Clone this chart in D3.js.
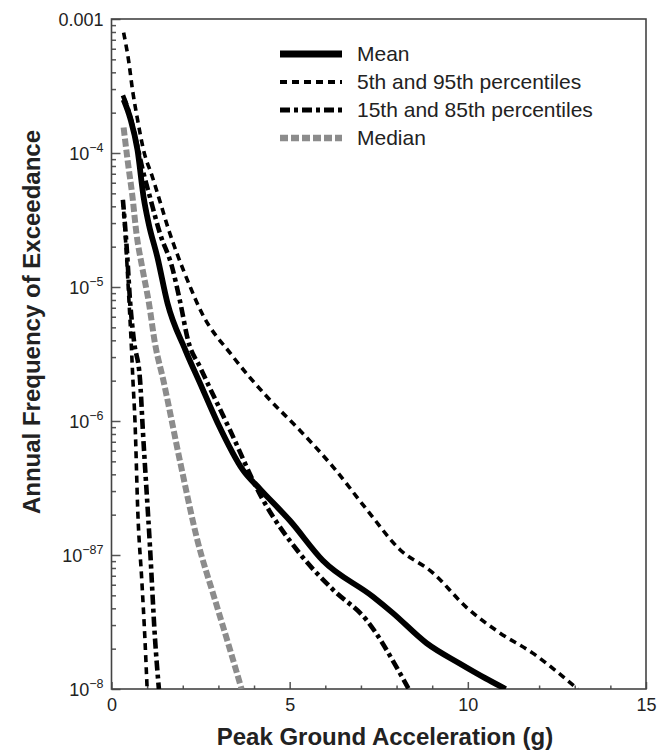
<!DOCTYPE html>
<html>
<head>
<meta charset="utf-8">
<script src="https://cdn.jsdelivr.net/npm/d3@7"></script>
<style>
  html, body { margin: 0; padding: 0; background: #fff; }
  svg { display: block; font-family: "Liberation Sans", Arial, Helvetica, sans-serif; }
</style>
</head>
<body>
<svg id="chart" width="660" height="751"></svg>
<script>
// ---------------- data ----------------
const meanX = [0.34, 0.53, 0.73, 0.90, 1.04, 1.29, 1.57, 2.07, 2.49, 2.97, 3.69, 4.17, 5.01, 5.93, 7.33, 7.89, 8.84, 9.77, 10.5, 11.06];
const meanY = [2.5e-4, 1.8e-4, 1.05e-4, 4.7e-5, 3.0e-5, 1.66e-5, 7.6e-6, 3.4e-6, 1.9e-6, 9.8e-7, 4.3e-7, 3.1e-7, 1.8e-7, 9.1e-8, 4.9e-8, 3.7e-8, 2.2e-8, 1.55e-8, 1.2e-8, 1.0e-8];

const p95X = [0.34, 0.48, 0.59, 0.73, 0.90, 1.15, 1.37, 1.60, 1.88, 2.21, 2.49, 3.41, 4.37, 5.29, 6.21, 7.16, 8.09, 9.01, 9.96, 10.89, 11.81, 13.08];
const p95Y = [7.9e-4, 4.9e-4, 2.95e-4, 1.78e-4, 1.05e-4, 6.6e-5, 4.27e-5, 2.69e-5, 1.66e-5, 1.0e-5, 6.76e-6, 3.02e-6, 1.51e-6, 8.5e-7, 4.57e-7, 2.19e-7, 1.1e-7, 7.4e-8, 4.07e-8, 2.63e-8, 1.86e-8, 1.0e-8];

const p5X = [0.32, 0.41, 0.49, 0.55, 0.60, 0.66, 0.74, 0.85, 0.94, 1.00];
const p5Y = [4.47e-5, 1.91e-5, 7.9e-6, 3.98e-6, 2.04e-6, 9.8e-7, 2.04e-7, 6.5e-8, 2.3e-8, 1.0e-8];

const p85X = [0.32, 0.47, 0.71, 0.88, 1.08, 1.36, 1.70, 1.92, 2.15, 2.49, 3.33, 4.17, 5.29, 6.22, 7.17, 8.09, 8.34];
const p85Y = [2.69e-4, 2.09e-4, 1.17e-4, 7.4e-5, 4.68e-5, 2.51e-5, 1.41e-5, 7.9e-6, 3.98e-6, 2.51e-6, 8.5e-7, 2.82e-7, 1.02e-7, 5.5e-8, 3.24e-8, 1.32e-8, 1.0e-8];

const p15X = [0.32, 0.43, 0.52, 0.63, 0.80, 0.88, 1.08, 1.22, 1.33];
const p15Y = [4.47e-5, 1.91e-5, 7.9e-6, 3.98e-6, 2.04e-6, 8.5e-7, 1.15e-7, 2.4e-8, 1.0e-8];

const medianX = [0.34, 0.45, 0.59, 0.70, 0.86, 1.05, 1.22, 1.45, 1.93, 2.41, 2.91, 3.33, 3.65];
const medianY = [1.55e-4, 8.9e-5, 4.68e-5, 2.51e-5, 1.41e-5, 7.6e-6, 3.8e-6, 2.04e-6, 4.9e-7, 1.29e-7, 4.57e-8, 1.95e-8, 1.0e-8];

const xTicks = [0, 5, 10, 15];
const xTickLabels = ["0", "5", "10", "15"];
const yTicks = [1e-3, 1e-4, 1e-5, 1e-6, 1e-7, 1e-8];
const yTickBase = ["0.001", "10", "10", "10", "10", "10"];
const yTickExp = ["", "\u22124", "\u22125", "\u22126", "\u221287", "\u22128"];

const legendLabels = ["Mean", "5th and 95th percentiles", "15th and 85th percentiles", "Median"];
const xTitle = "Peak Ground Acceleration (g)";
const yTitle = "Annual Frequency of Exceedance";

// ---------------- layout ----------------
const pL = 111.5, pR = 646, pT = 19, pB = 689;
const svg = d3.select("#chart");

const x = d3.scaleLinear().domain([0, 15]).range([pL, pR]);
const y = d3.scaleLog().domain([1e-8, 1e-3]).range([pB, pT]);

const styles = {
  mean:   { stroke: "#000", width: 5.8, dash: null },
  p95:    { stroke: "#000", width: 3.6, dash: "7,5" },
  p85:    { stroke: "#000", width: 4.6, dash: "10,4,4,4" },
  median: { stroke: "#8c8c8c", width: 6, dash: "8,3" }
};

svg.append("defs").append("clipPath").attr("id", "clip")
  .append("rect").attr("x", pL).attr("y", pT).attr("width", pR - pL).attr("height", pB - pT);

// ---------------- axes ----------------
const xMinor = d3.range(1, 15).filter(v => v % 5 !== 0);
svg.append("g").attr("transform", `translate(0,${pB})`)
  .call(d3.axisBottom(x).tickValues(xMinor).tickSize(-3.5).tickFormat(""))
  .call(g => g.select(".domain").remove())
  .call(g => g.selectAll("line").attr("stroke", "#555").attr("stroke-width", 1.5));
svg.append("g").attr("transform", `translate(0,${pB})`)
  .call(d3.axisBottom(x).tickValues(xTicks).tickSize(-7).tickFormat((d, i) => xTickLabels[i]))
  .call(g => g.select(".domain").remove())
  .call(g => g.selectAll("line").attr("stroke", "#555").attr("stroke-width", 1.5))
  .call(g => g.selectAll("text").attr("y", 9).attr("font-size", 18).attr("fill", "#222")
        .attr("font-family", "'Liberation Sans', Arial, sans-serif"));

const yMinor = [];
for (let e = -8; e < -3; e++) for (let m = 2; m <= 9; m++) yMinor.push(m * Math.pow(10, e));
svg.append("g").attr("transform", `translate(${pL},0)`)
  .call(d3.axisLeft(y).tickValues(yMinor).tickSize(-4.5).tickFormat(""))
  .call(g => g.select(".domain").remove())
  .call(g => g.selectAll("line").attr("stroke", "#555").attr("stroke-width", 1.5));
svg.append("g").attr("transform", `translate(${pL},0)`)
  .call(d3.axisLeft(y).tickValues(yTicks).tickSize(-9).tickFormat(""))
  .call(g => g.select(".domain").remove())
  .call(g => g.selectAll("line").attr("stroke", "#555").attr("stroke-width", 1.5));

const yl = svg.append("g");
yTicks.forEach((v, i) => {
  const t = yl.append("text")
    .attr("x", pL - 8).attr("y", y(v) + 6.5)
    .attr("text-anchor", "end").attr("font-size", 18).attr("fill", "#222");
  t.append("tspan").text(yTickBase[i]);
  if (yTickExp[i]) t.append("tspan").attr("dy", -8).attr("font-size", 12.5).text(yTickExp[i]);
});

svg.append("rect").attr("x", pL).attr("y", pT).attr("width", pR - pL).attr("height", pB - pT)
  .attr("fill", "none").attr("stroke", "#444").attr("stroke-width", 1.6);

// ---------------- series ----------------
const line = d3.line().x(d => x(d[0])).y(d => y(d[1])).curve(d3.curveMonotoneX);
const series = [
  { xs: p5X, ys: p5Y, s: styles.p95 },
  { xs: p95X, ys: p95Y, s: styles.p95 },
  { xs: p15X, ys: p15Y, s: styles.p85 },
  { xs: p85X, ys: p85Y, s: styles.p85 },
  { xs: medianX, ys: medianY, s: styles.median },
  { xs: meanX, ys: meanY, s: styles.mean }
];
const plot = svg.append("g").attr("clip-path", "url(#clip)");
series.forEach(sr => {
  const pts = sr.xs.map((v, i) => [v, sr.ys[i]]);
  plot.append("path").datum(pts).attr("d", line)
    .attr("fill", "none").attr("stroke", sr.s.stroke).attr("stroke-width", sr.s.width)
    .attr("stroke-dasharray", sr.s.dash).attr("stroke-linejoin", "round");
});

// ---------------- legend ----------------
const legStyles = [styles.mean, styles.p95, styles.p85, styles.median];
const leg = svg.append("g");
legendLabels.forEach((lab, i) => {
  const ly = 54 + i * 28;
  const s = legStyles[i];
  leg.append("line").attr("x1", 280).attr("x2", 342).attr("y1", ly).attr("y2", ly)
    .attr("stroke", s.stroke).attr("stroke-width", i === 0 ? 7 : s.width + 0.5)
    .attr("stroke-dasharray", s.dash);
  leg.append("text").attr("x", 357).attr("y", ly + 7).attr("font-size", 21).attr("fill", "#222").text(lab);
});

// ---------------- titles ----------------
svg.append("text").attr("x", 385).attr("y", 745).attr("text-anchor", "middle")
  .attr("font-size", 24).attr("font-weight", "bold").attr("fill", "#222").text(xTitle);
svg.append("text").attr("transform", "translate(40,322) rotate(-90)").attr("text-anchor", "middle")
  .attr("font-size", 24).attr("font-weight", "bold").attr("fill", "#222").text(yTitle);
</script>
</body>
</html>
